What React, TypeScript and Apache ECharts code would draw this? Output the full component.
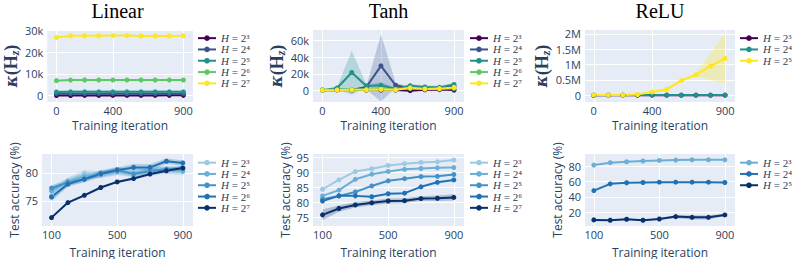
import React, { useEffect, useRef } from 'react';
import * as echarts from 'echarts';

// ---------- data ----------
const kIters = [0, 100, 200, 300, 400, 500, 600, 700, 800, 900];
const accIters = [100, 200, 300, 400, 500, 600, 700, 800, 900];

// Linear, condition number
const linK3 = [100, 100, 120, 120, 130, 130, 140, 140, 150, 150];
const linK4 = [850, 880, 880, 880, 890, 890, 890, 890, 900, 900];
const linK5 = [1700, 1750, 1750, 1750, 1750, 1750, 1750, 1750, 1750, 1750];
const linK5Lo = [1100, 1150, 1150, 1150, 1150, 1150, 1150, 1150, 1150, 1150];
const linK5Hi = [2300, 2350, 2350, 2350, 2350, 2350, 2350, 2350, 2350, 2350];
const linK6 = [6900, 7150, 7200, 7200, 7200, 7200, 7200, 7200, 7200, 7200];
const linK7 = [26700, 27500, 27500, 27500, 27600, 27600, 27400, 27400, 27400, 27500];

// Tanh, condition number
const tanK3 = [0, 100, 200, 200, 300, 200, -500, 600, 800, 200];
const tanK4 = [0, 800, 500, 4000, 29600, 6100, 2500, 2500, 3000, 4500];
const tanK4Lo = [0, 0, -500, 1000, -13500, 3000, 1000, 1000, 1500, 3000];
const tanK4Hi = [0, 1500, 1500, 5000, 68000, 9000, 4000, 4000, 4500, 6000];
const tanK5 = [0, 2800, 21500, 5300, 6000, 1500, 5500, 4000, 3500, 7000];
const tanK5Lo = [0, 1500, -5500, 3500, 2000, 0, 3500, 2500, 2000, 5000];
const tanK5Hi = [0, 4000, 48000, 7000, 10000, 3000, 7500, 6000, 5500, 9000];
const tanK6 = [500, 500, 800, 800, 1200, 800, 2000, 1500, 1500, 2000];
const tanK7 = [0, 200, 500, 500, 1000, 500, 3000, 1500, 2000, 3500];

// ReLU, condition number
const reK3 = [1500, 1800, 2000, 2200, 2500, 2500, 2600, 2600, 2700, 2700];
const reK4 = [4000, 4500, 5000, 5000, 5500, 5500, 5500, 6000, 6000, 6000];
const reK5 = [10000, 5000, 8000, 25000, 110000, 190000, 480000, 670000, 950000, 1200000];
const reK5Lo = [-20000, -20000, -20000, 0, 70000, 130000, 440000, 620000, 500000, 380000];
const reK5Hi = [40000, 30000, 40000, 50000, 150000, 250000, 520000, 720000, 1360000, 2020000];

// Linear, test accuracy
const linA3 = [76.0, 78.6, 79.9, 79.6, 80.3, 80.5, 80.2, 80.4, 80.2];
const linA3Lo = [75.0, 78.0, 79.2, 79.0, 79.7, 79.8, 79.5, 79.8, 79.6];
const linA3Hi = [77.0, 79.2, 80.6, 80.2, 80.9, 81.2, 80.9, 81.0, 80.8];
const linA4 = [76.8, 78.5, 79.4, 79.8, 80.2, 79.9, 80.6, 80.5, 80.4];
const linA4Lo = [76.0, 77.9, 78.8, 79.2, 79.6, 79.3, 80.0, 79.9, 79.8];
const linA4Hi = [77.6, 79.1, 80.0, 80.4, 80.8, 80.5, 81.2, 81.1, 81.0];
const linA5 = [77.3, 78.3, 78.9, 80.0, 80.6, 79.8, 80.3, 80.7, 80.8];
const linA5Lo = [76.8, 77.8, 78.3, 79.5, 80.1, 79.2, 79.8, 80.2, 80.3];
const linA5Hi = [77.8, 78.8, 79.5, 80.5, 81.1, 80.4, 80.8, 81.2, 81.3];
const linA6 = [75.7, 78.0, 78.9, 79.8, 80.5, 81.0, 81.0, 82.1, 81.8];
const linA6Lo = [75.0, 77.5, 78.4, 79.3, 80.0, 80.4, 80.4, 81.6, 81.3];
const linA6Hi = [76.4, 78.5, 79.4, 80.3, 81.0, 81.6, 81.6, 82.6, 82.3];
const linA7 = [72.0, 74.7, 76.0, 77.4, 78.4, 79.0, 79.8, 80.4, 80.9];
const linA7Lo = [71.8, 74.5, 75.8, 77.2, 78.2, 78.8, 79.5, 80.1, 80.5];
const linA7Hi = [72.2, 74.9, 76.2, 77.6, 78.6, 79.2, 80.1, 80.7, 81.3];

// Tanh, test accuracy
const tanA3 = [84.3, 87.4, 90.2, 91.1, 92.2, 92.8, 93.2, 93.4, 94.0];
const tanA4 = [82.1, 84.0, 87.6, 89.3, 90.2, 90.9, 91.2, 91.4, 91.5];
const tanA5 = [81.0, 82.1, 83.4, 85.4, 87.1, 87.8, 88.5, 88.6, 89.2];
const tanA6 = [80.4, 82.1, 82.1, 81.8, 82.8, 83.0, 85.1, 86.6, 87.4];
const tanA7 = [75.8, 77.9, 79.1, 79.8, 80.4, 80.5, 81.2, 81.3, 81.6];
const tanA7Lo = [74.0, 76.8, 78.2, 79.0, 79.6, 79.7, 80.4, 80.4, 80.6];
const tanA7Hi = [77.6, 79.0, 80.0, 80.6, 81.2, 81.3, 82.0, 82.2, 82.6];

// ReLU, test accuracy
const reA3 = [81.8, 84.9, 86.2, 87.1, 87.9, 88.3, 88.7, 88.7, 88.7];
const reA4 = [48.4, 57.2, 58.6, 59.0, 59.4, 59.4, 59.4, 59.4, 59.0];
const reA5 = [10.0, 9.5, 10.8, 9.5, 11.2, 14.3, 13.4, 13.4, 16.5];
const reA5Lo = [9.0, 8.7, 9.8, 8.7, 10.2, 12.0, 10.4, 10.6, 15.0];
const reA5Hi = [11.0, 10.3, 11.8, 10.3, 12.2, 16.0, 16.0, 15.8, 18.0];

// tick labels
const kTicksX = [0, 400, 900];
const accTicksX = [100, 500, 900];
const linKTicksY = [0, 10000, 20000, 30000];
const tanKTicksY = [0, 20000, 40000, 60000];
const reKTicksY = [0, 500000, 1000000, 1500000, 2000000];
const linATicksY = [75, 80];
const tanATicksY = [75, 80, 85, 90, 95];
const reATicksY = [20, 40, 60, 80];

const titles = ['Linear', 'Tanh', 'ReLU'];
const SUP: Record<string, string> = { '3': '³', '4': '⁴', '5': '⁵', '6': '⁶', '7': '⁷' };

// ---------- style ----------
const VIR5 = ['#440154', '#3b528b', '#21918c', '#5ec962', '#fde725'];
const VIR3 = ['#440154', '#21918c', '#fde725'];
const BLU5 = ['#9ecae1', '#6baed6', '#4292c6', '#2171b5', '#08306b'];
const BLU3 = ['#6baed6', '#2171b5', '#08306b'];
const TXT = '#2a3f5f';
const BG = '#E5ECF6';

const colLeft = [42, 313, 585];
const colWidth = [151, 151, 150];
const rowTop = [30, 154];
const rowH = 72;
const legendLeft = [197, 469, 739];

function pairs(xs: number[], ys: number[]) {
  return xs.map((x, i) => [x, ys[i]]);
}

function line(id: string, gi: number, xs: number[], ys: number[], color: string) {
  return {
    type: 'line',
    name: id,
    xAxisIndex: gi,
    yAxisIndex: gi,
    data: pairs(xs, ys),
    symbol: 'circle',
    symbolSize: 5,
    showSymbol: true,
    lineStyle: { color, width: 2 },
    itemStyle: { color },
    z: 3,
  };
}

function band(gi: number, xs: number[], lo: number[], hi: number[], color: string, alpha: number) {
  const fill = echarts.color.modifyAlpha(color, alpha);
  return {
    type: 'custom',
    xAxisIndex: gi,
    yAxisIndex: gi,
    silent: true,
    z: 1,
    clip: true,
    data: xs.map((x, i) => [x, lo[i], hi[i]]),
    encode: { x: 0, y: [1, 2] },
    renderItem: (params: any, api: any) => {
      if (params.dataIndex !== 0) return null;
      const top = xs.map((x, i) => api.coord([x, hi[i]]));
      const bot = xs.map((x, i) => api.coord([x, lo[i]])).reverse();
      return { type: 'polygon', shape: { points: top.concat(bot) }, style: { fill } };
    },
  };
}

const kFmt = (v: number) => (v === 0 ? '0' : v / 1000 + 'k');
const mFmt = (v: number) => (v === 0 ? '0' : v / 1000000 + 'M');

function xAxis(gi: number, min: number, max: number, ticks: number[], gap: number) {
  return {
    type: 'value',
    gridIndex: gi,
    min,
    max,
    name: 'Training iteration',
    nameLocation: 'middle',
    nameGap: gap,
    nameTextStyle: { color: TXT, fontFamily: 'Open Sans', fontSize: 12 },
    axisLine: { show: false },
    axisTick: { show: false, customValues: ticks },
    axisLabel: { customValues: ticks, color: TXT, fontFamily: 'Open Sans', fontSize: 11, margin: 3 },
    splitLine: { show: true, lineStyle: { color: '#ffffff', width: 1 } },
  };
}

function yAxis(gi: number, min: number, max: number, ticks: number[], fmt: any, name: string, rich: any, gap: number) {
  return {
    type: 'value',
    gridIndex: gi,
    min,
    max,
    name,
    nameLocation: 'middle',
    nameGap: gap,
    nameRotate: 90,
    nameTextStyle: rich,
    axisLine: { show: false },
    axisTick: { show: false, customValues: ticks },
    axisLabel: { customValues: ticks, formatter: fmt, color: TXT, fontFamily: 'Open Sans', fontSize: 11, margin: 4 },
    splitLine: { show: true, lineStyle: { color: '#ffffff', width: 1 } },
  };
}

const kappaName = '{k|κ}{t|(H}{z|z}{t|)}';
const kappaStyle = {
  color: TXT,
  rich: {
    k: { fontFamily: 'DejaVu Serif', fontWeight: 'bold', fontStyle: 'italic', fontSize: 16, color: TXT },
    t: { fontFamily: 'Liberation Serif', fontWeight: 'bold', fontSize: 18, color: TXT },
    z: { fontFamily: 'Liberation Serif', fontWeight: 'bold', fontStyle: 'italic', fontSize: 12, color: TXT, lineHeight: 8, padding: [8, 0, 0, 0] },
  },
};
const accStyle = { color: TXT, fontFamily: 'Open Sans', fontSize: 12 };

function legend(names: string[], left: number, top: number) {
  return {
    orient: 'vertical',
    left,
    top,
    padding: 0,
    itemGap: 0,
    itemWidth: 18,
    itemHeight: 7,
    selectedMode: false,
    data: names,
    formatter: (n: string) => '{i|H}{n| = 2' + SUP[n.split('|')[1]] + '}',
    textStyle: {
      color: TXT,
      fontSize: 11,
      lineHeight: 11.3,
      rich: {
        i: { fontFamily: 'Liberation Serif', fontStyle: 'italic', fontSize: 11, lineHeight: 11.3, color: TXT },
        n: { fontFamily: 'Liberation Serif', fontSize: 11, lineHeight: 11.3, color: TXT },
      },
    },
  };
}

function buildOption() {
  const grids = [];
  for (let r = 0; r < 2; r++) {
    for (let c = 0; c < 3; c++) {
      grids.push({
        left: colLeft[c],
        top: rowTop[r],
        width: colWidth[c],
        height: rowH,
        show: true,
        backgroundColor: BG,
        borderWidth: 0,
        containLabel: false,
      });
    }
  }

  const xAxes = [
    xAxis(0, -65, 968, kTicksX, 17),
    xAxis(1, -65, 968, kTicksX, 17),
    xAxis(2, -60, 968, kTicksX, 17),
    xAxis(3, 42, 962, accTicksX, 20),
    xAxis(4, 42, 962, accTicksX, 20),
    xAxis(5, 46, 962, accTicksX, 20),
  ];
  const yAxes = [
    yAxis(0, -2900, 30150, linKTicksY, kFmt, kappaName, kappaStyle, 20),
    yAxis(1, -14200, 73000, tanKTicksY, kFmt, kappaName, kappaStyle, 20),
    yAxis(2, -220000, 2130000, reKTicksY, mFmt, kappaName, kappaStyle, 20),
    yAxis(3, 70.5, 83.4, linATicksY, null, 'Test accuracy (%)', accStyle, 22),
    yAxis(4, 72.1, 96, tanATicksY, null, 'Test accuracy (%)', accStyle, 22),
    yAxis(5, 2, 96.3, reATicksY, null, 'Test accuracy (%)', accStyle, 22),
  ];

  const series: any[] = [
    // bands
    band(0, kIters, linK5Lo, linK5Hi, VIR5[2], 0.3),
    band(1, kIters, tanK5Lo, tanK5Hi, VIR5[2], 0.25),
    band(1, kIters, tanK4Lo, tanK4Hi, VIR5[1], 0.25),
    band(2, kIters, reK5Lo, reK5Hi, VIR3[2], 0.3),
    band(3, accIters, linA3Lo, linA3Hi, BLU5[0], 0.35),
    band(3, accIters, linA4Lo, linA4Hi, BLU5[1], 0.3),
    band(3, accIters, linA5Lo, linA5Hi, BLU5[2], 0.25),
    band(3, accIters, linA6Lo, linA6Hi, BLU5[3], 0.25),
    band(3, accIters, linA7Lo, linA7Hi, BLU5[4], 0.25),
    band(4, accIters, tanA7Lo, tanA7Hi, BLU5[4], 0.25),
    band(5, accIters, reA5Lo, reA5Hi, BLU3[2], 0.25),
    // lines
    line('lk|3', 0, kIters, linK3, VIR5[0]),
    line('lk|4', 0, kIters, linK4, VIR5[1]),
    line('lk|5', 0, kIters, linK5, VIR5[2]),
    line('lk|6', 0, kIters, linK6, VIR5[3]),
    line('lk|7', 0, kIters, linK7, VIR5[4]),
    line('tk|3', 1, kIters, tanK3, VIR5[0]),
    line('tk|4', 1, kIters, tanK4, VIR5[1]),
    line('tk|5', 1, kIters, tanK5, VIR5[2]),
    line('tk|6', 1, kIters, tanK6, VIR5[3]),
    line('tk|7', 1, kIters, tanK7, VIR5[4]),
    line('rk|3', 2, kIters, reK3, VIR3[0]),
    line('rk|4', 2, kIters, reK4, VIR3[1]),
    line('rk|5', 2, kIters, reK5, VIR3[2]),
    line('la|3', 3, accIters, linA3, BLU5[0]),
    line('la|4', 3, accIters, linA4, BLU5[1]),
    line('la|5', 3, accIters, linA5, BLU5[2]),
    line('la|6', 3, accIters, linA6, BLU5[3]),
    line('la|7', 3, accIters, linA7, BLU5[4]),
    line('ta|3', 4, accIters, tanA3, BLU5[0]),
    line('ta|4', 4, accIters, tanA4, BLU5[1]),
    line('ta|5', 4, accIters, tanA5, BLU5[2]),
    line('ta|6', 4, accIters, tanA6, BLU5[3]),
    line('ta|7', 4, accIters, tanA7, BLU5[4]),
    line('ra|3', 5, accIters, reA3, BLU3[0]),
    line('ra|4', 5, accIters, reA4, BLU3[1]),
    line('ra|5', 5, accIters, reA5, BLU3[2]),
  ];

  const legends = [
    legend(['lk|3', 'lk|4', 'lk|5', 'lk|6', 'lk|7'], legendLeft[0], 32.5),
    legend(['tk|3', 'tk|4', 'tk|5', 'tk|6', 'tk|7'], legendLeft[1], 32.5),
    legend(['rk|3', 'rk|4', 'rk|5'], legendLeft[2], 32.5),
    legend(['la|3', 'la|4', 'la|5', 'la|6', 'la|7'], legendLeft[0], 157),
    legend(['ta|3', 'ta|4', 'ta|5', 'ta|6', 'ta|7'], legendLeft[1], 157),
    legend(['ra|3', 'ra|4', 'ra|5'], legendLeft[2], 157),
  ];

  const graphic = titles.map((t, c) => ({
    type: 'text',
    x: colLeft[c] + colWidth[c] / 2,
    y: 11,
    style: {
      text: t,
      textAlign: 'center',
      textVerticalAlign: 'middle',
      fontFamily: 'Liberation Serif',
      fontSize: 20,
      fill: '#000000',
    },
  }));

  return {
    animation: false,
    backgroundColor: '#ffffff',
    grid: grids,
    xAxis: xAxes,
    yAxis: yAxes,
    legend: legends,
    series,
    graphic,
  };
}

export default function App() {
  const ref = useRef<HTMLDivElement>(null);
  useEffect(() => {
    if (!ref.current) return;
    const chart = echarts.init(ref.current, null, { renderer: 'svg' });
    chart.setOption(buildOption() as any);
    return () => chart.dispose();
  }, []);
  return (
    <div
      ref={ref}
      style={{ position: 'absolute', left: 0, top: 0, width: 793, height: 259 }}
    />
  );
}
